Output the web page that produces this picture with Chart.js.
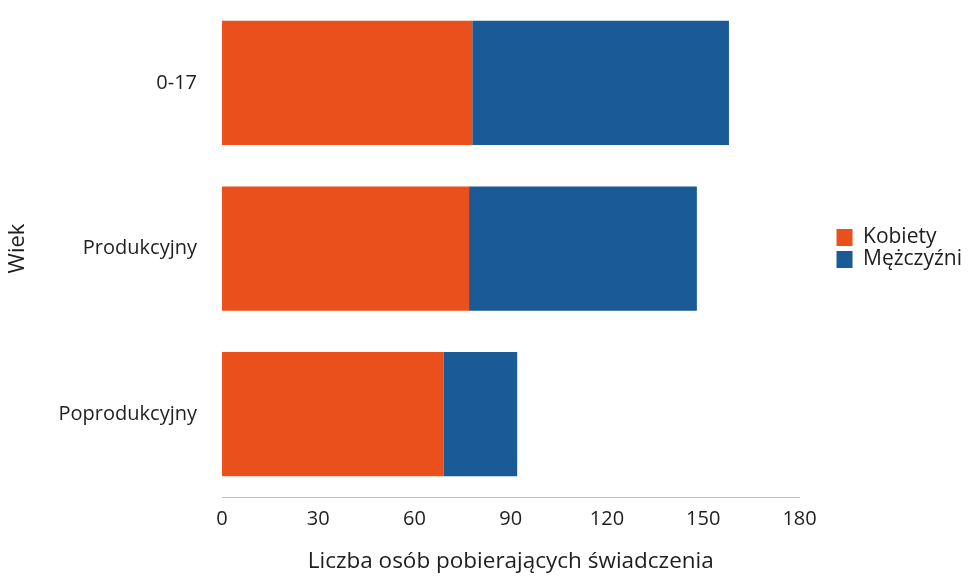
<!DOCTYPE html>
<html>
<head>
<meta charset="utf-8">
<script src="https://cdn.jsdelivr.net/npm/chart.js@4/dist/chart.umd.min.js"></script>
<style>
  html, body { margin: 0; padding: 0; background: #ffffff; }
  #wrap { width: 971px; height: 577px; position: relative; }
</style>
</head>
<body>
<div id="wrap"><canvas id="c" width="971" height="577"></canvas></div>
<script>
const categories = ['0-17', 'Produkcyjny', 'Poprodukcyjny'];
const kobiety = [78, 77, 69];
const mezczyzni = [80, 71, 23];
const xTicks = [0, 30, 60, 90, 120, 150, 180];
const seriesNames = ['Kobiety', 'Mężczyźni'];
const xTitle = 'Liczba osób pobierających świadczenia';
const yTitle = 'Wiek';

const FONT = "'Open Sans', 'Noto Sans', sans-serif";
const TXT = '#1e1e1e';

// place the legend a little to the right of the plot, as in the reference
const legendShift = {
  id: 'legendShift',
  afterLayout(chart) {
    const L = chart.legend;
    if (!L) return;
    const w = L.width;
    L.left = chart.chartArea.right + 36;
    L.right = L.left + w;
  }
};

new Chart(document.getElementById('c'), {
  type: 'bar',
  data: {
    labels: categories,
    datasets: [
      { label: seriesNames[0], data: kobiety, backgroundColor: '#e9501c', borderWidth: 0 },
      { label: seriesNames[1], data: mezczyzni, backgroundColor: '#195a97', borderWidth: 0 }
    ]
  },
  plugins: [legendShift],
  options: {
    indexAxis: 'y',
    responsive: false,
    animation: false,
    layout: { padding: { left: 0, right: 35, top: 0, bottom: 2 } },
    datasets: { bar: { categoryPercentage: 0.75, barPercentage: 1.0 } },
    scales: {
      x: {
        stacked: true,
        min: 0, max: 180,
        afterBuildTicks: (axis) => { axis.ticks = xTicks.map(v => ({ value: v })); },
        grid: { display: false, drawTicks: false },
        border: { display: true, color: '#bdbdbd', width: 1 },
        ticks: { color: TXT, font: { family: FONT, size: 20 }, padding: 10, maxRotation: 0 },
        title: { display: true, text: xTitle, color: TXT, font: { family: FONT, size: 22.5 }, padding: { top: 7, bottom: 0 } }
      },
      y: {
        stacked: true,
        grid: { display: false, drawTicks: false },
        border: { display: false },
        ticks: { color: TXT, font: { family: FONT, size: 20 }, padding: 25 },
        title: { display: true, text: yTitle, color: TXT, font: { family: FONT, size: 22 }, padding: { top: 5, bottom: 10 } },
        afterFit: (scale) => { scale.width = 222; scale.paddingTop = 0; scale.paddingBottom = 0; }
      }
    },
    plugins: {
      legend: {
        position: 'right',
        align: 'center',
        fullSize: false,
        labels: {
          color: TXT,
          font: { family: FONT, size: 21 },
          boxWidth: 16, boxHeight: 17,
          padding: 1
        }
      },
      tooltip: { enabled: false }
    }
  }
});
</script>
</body>
</html>
